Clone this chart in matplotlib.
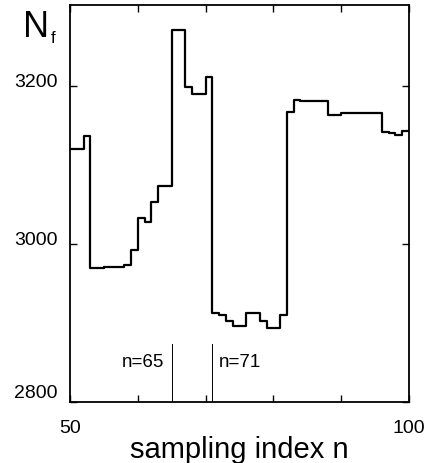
import numpy as np
import matplotlib
matplotlib.use('Agg')
import matplotlib.pyplot as plt
from matplotlib.transforms import ScaledTranslation

plt.rcParams['font.family'] = ['Liberation Sans', 'DejaVu Sans']

# sampling index n (step starts) and N_f value held over [n, n+1)
n_idx = list(range(50, 100))
n_f = [3120, 3120, 3137, 2969, 2969, 2971, 2971, 2971, 2973, 2992,
       3033, 3028, 3053, 3073, 3073, 3270, 3270, 3199, 3190, 3190,
       3211, 2912, 2910, 2902, 2896, 2896, 2913, 2913, 2902, 2893,
       2893, 2910, 3167, 3182, 3181, 3181, 3181, 3181, 3163, 3163,
       3166, 3165, 3165, 3165, 3165, 3165, 3142, 3140, 3138, 3143]
marks = [65, 71]
mark_labels = ['n=65', 'n=71']
x_ticks = [50, 60, 70, 80, 90, 100]
x_ticklabels = ['50', '', '', '', '', '100']
y_ticks = [2800, 3000, 3200]

fig = plt.figure(figsize=(4.35, 4.63), dpi=100)
ax = fig.add_axes([0.161, 0.132, 0.779, 0.857])

xs = n_idx + [100]
ys = n_f + [n_f[-1]]
ax.step(xs, ys, where='post', color='black', lw=1.6)

for m, lab in zip(marks, mark_labels):
    ax.plot([m, m], [2800, 2873], color='black', lw=0.7)
    if m == 65:
        ax.text(m - 1.1, 2850, lab, ha='right', va='center', fontsize=13.5)
    else:
        ax.text(m + 1.0, 2850, lab, ha='left', va='center', fontsize=13.5)

ax.set_xlim(50, 100)
ax.set_ylim(2800, 3302)
ax.set_xticks(x_ticks)
ax.set_xticklabels(x_ticklabels)
ax.set_yticks(y_ticks)
ax.tick_params(direction='in', length=5, width=1, top=True, right=True,
               labelsize=14)
ax.tick_params(axis='x', pad=13)
ax.tick_params(axis='y', pad=9)
for s in ax.spines.values():
    s.set_linewidth(1.3)

# labels sit a little above their ticks in the original
for lab, up in zip(ax.get_yticklabels(), [10, 5, 5]):
    lab.set_transform(lab.get_transform() + ScaledTranslation(0, up / 100, fig.dpi_scale_trans))

ax.set_xlabel('sampling index n', fontsize=21, labelpad=-1)

fig.text(23 / 435, 1 - 37 / 463, 'N', fontsize=26, ha='left', va='baseline')
fig.text(51 / 435, 1 - 43 / 463, 'f', fontsize=12, ha='left', va='baseline')

fig.savefig('out.png', dpi=100)
